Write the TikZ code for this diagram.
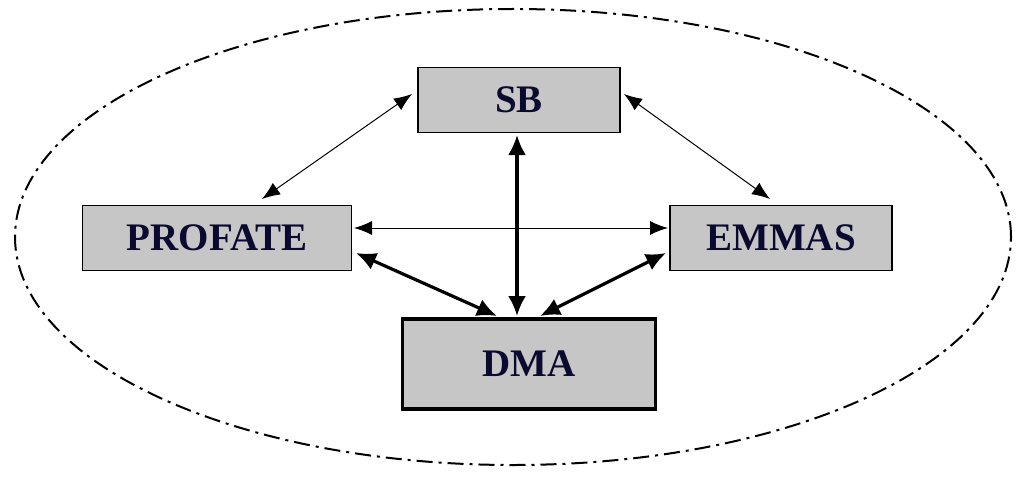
\documentclass[tikz,border=0pt]{standalone}
\usepackage{fontspec}
\setmainfont{Liberation Serif}
\usetikzlibrary{arrows.meta,shapes.geometric}
\definecolor{txt}{HTML}{0A0A30}
\begin{document}
\begin{tikzpicture}[x=1pt,y=-1pt,
 box/.style={draw,fill=gray!45,line width=1.4pt,text=txt,font=\bfseries\fontsize{39}{39}\selectfont,inner sep=0pt},
 thin/.style={line width=1pt,{Latex[length=18pt,width=14pt]}-{Latex[length=18pt,width=14pt]}},
 thick/.style={line width=3.2pt,{Latex[length=20pt,width=18pt]}-{Latex[length=20pt,width=18pt]}}]
\useasboundingbox (0,0) rectangle (1024,476);
\node[draw,line width=2pt,dash pattern=on 16pt off 6pt on 3pt off 6pt,ellipse,minimum width=996pt,minimum height=456pt] (ell) at (513,237) {};
\node[box,minimum width=202pt,minimum height=65pt] (sb) at (519,100) {SB};
\node[box,minimum width=269pt,minimum height=65pt] (pr) at (217,238) {PROFATE};
\node[box,minimum width=222pt,minimum height=65pt] (em) at (781,238) {EMMAS};
\node[box,line width=3.8pt,minimum width=253pt,minimum height=90pt] (dma) at (529,364) {DMA};
\coordinate (a1) at (412,94); \coordinate (a2) at (262,199);
\coordinate (b1) at (624,94); \coordinate (b2) at (770,199);
\coordinate (p1) at (354,228); \coordinate (p2) at (668,228);
\coordinate (c1) at (517,135); \coordinate (c2) at (517,316);
\coordinate (d1) at (356,253); \coordinate (d2) at (497,316);
\coordinate (e1) at (666,253); \coordinate (e2) at (540,316);
\draw[thin] (a1) -- (a2);
\draw[thin] (b1) -- (b2);
\draw[thin] (p1) -- (p2);
\draw[thick] (c1) -- (c2);
\draw[thick] (d1) -- (d2);
\draw[thick] (e1) -- (e2);
\end{tikzpicture}
\end{document}
